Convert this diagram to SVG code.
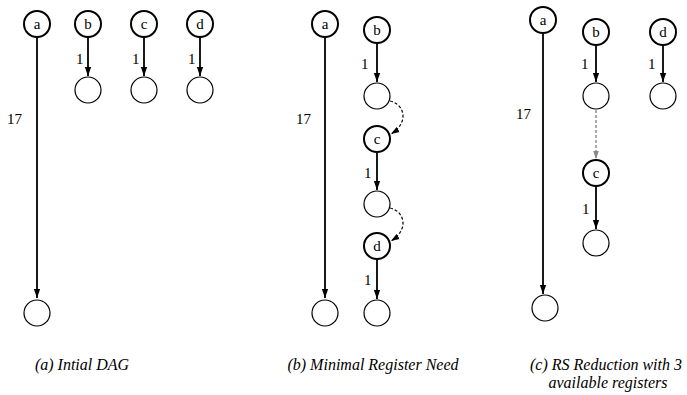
<svg xmlns="http://www.w3.org/2000/svg" width="687" height="395" viewBox="0 0 687 395">
<style>
.lab{stroke:#000;stroke-width:2;fill:#fff}
.emp{stroke:#000;stroke-width:1.2;fill:#fff}
text{font-family:'Liberation Serif','Times New Roman','DejaVu Serif',serif;font-size:15px;fill:#000}
.nt{text-anchor:middle}
.e{stroke:#000;stroke-width:1.8;fill:none;marker-end:url(#ah)}
.d{stroke:#000;stroke-width:1.2;stroke-dasharray:3,2;fill:none;marker-end:url(#ah2)}
.g{stroke:#888;stroke-width:1.4;stroke-dasharray:3,2;fill:none;marker-end:url(#ahg)}
.cap{font-style:italic;text-anchor:middle;font-size:16px}
</style>
<defs>
<marker id="ah" viewBox="0 0 10 10" refX="10" refY="5" markerWidth="5" markerHeight="5" orient="auto" markerUnits="strokeWidth"><path d="M0,1.5 L10,5 L0,8.5 z" fill="#000"/></marker>
<marker id="ah2" viewBox="0 0 10 10" refX="10" refY="5" markerWidth="7" markerHeight="7" orient="auto" markerUnits="strokeWidth"><path d="M0,1.5 L10,5 L0,8.5 z" fill="#000"/></marker>
<marker id="ahg" viewBox="0 0 10 10" refX="10" refY="5" markerWidth="6" markerHeight="6" orient="auto" markerUnits="strokeWidth"><path d="M0,1.5 L10,5 L0,8.5 z" fill="#888"/></marker>
</defs>
<g id="connectors">
<path class="e" d="M37,38 V298"/>
<path class="e" d="M88,38 V76"/>
<path class="e" d="M144,38 V76"/>
<path class="e" d="M200,38 V76"/>
<path class="e" d="M325,38 V298"/>
<path class="e" d="M377,44 V82"/>
<path class="e" d="M377,153 V190"/>
<path class="e" d="M377,260 V299"/>
<path class="d" d="M390,101 C404,104 410,122 391,134"/>
<path class="d" d="M390,208 C404,211 410,229 391,241"/>
<path class="e" d="M543,34 V294"/>
<path class="e" d="M596,46 V82"/>
<path class="e" d="M663,46 V82"/>
<path class="g" d="M596,110 V159"/>
<path class="e" d="M596,187 V229"/>
<text x="76" y="64">1</text>
<text x="132" y="64">1</text>
<text x="188" y="64">1</text>
<text x="7" y="124">17</text>
<text x="296" y="124">17</text>
<text x="361" y="69">1</text>
<text x="364" y="178">1</text>
<text x="364" y="285">1</text>
<text x="516" y="119">17</text>
<text x="581" y="69">1</text>
<text x="648" y="69">1</text>
<text x="582" y="214">1</text>
</g>
<g id="a1"><circle class="lab" cx="37" cy="24" r="13"/><text class="nt" x="37" y="29">a</text></g>
<g id="b1"><circle class="lab" cx="88" cy="24" r="13"/><text class="nt" x="88" y="29">b</text></g>
<g id="c1"><circle class="lab" cx="144" cy="24" r="13"/><text class="nt" x="144" y="29">c</text></g>
<g id="d1"><circle class="lab" cx="200" cy="24" r="13"/><text class="nt" x="200" y="29">d</text></g>
<g id="b1s"><circle class="emp" cx="88" cy="90" r="13"/></g>
<g id="c1s"><circle class="emp" cx="144" cy="90" r="13"/></g>
<g id="d1s"><circle class="emp" cx="200" cy="90" r="13"/></g>
<g id="a1s"><circle class="emp" cx="37" cy="313" r="13"/></g>
<g id="a2"><circle class="lab" cx="325" cy="24" r="13"/><text class="nt" x="325" y="29">a</text></g>
<g id="b2"><circle class="lab" cx="377" cy="30" r="13"/><text class="nt" x="377" y="35">b</text></g>
<g id="b2s"><circle class="emp" cx="377" cy="96" r="13"/></g>
<g id="c2"><circle class="lab" cx="377" cy="139" r="13"/><text class="nt" x="377" y="144">c</text></g>
<g id="c2s"><circle class="emp" cx="377" cy="204" r="13"/></g>
<g id="d2"><circle class="lab" cx="377" cy="246" r="13"/><text class="nt" x="377" y="251">d</text></g>
<g id="d2s"><circle class="emp" cx="377" cy="313" r="13"/></g>
<g id="a2s"><circle class="emp" cx="325" cy="313" r="13"/></g>
<g id="a3"><circle class="lab" cx="543" cy="20" r="13"/><text class="nt" x="543" y="25">a</text></g>
<g id="b3"><circle class="lab" cx="596" cy="32" r="13"/><text class="nt" x="596" y="37">b</text></g>
<g id="d3"><circle class="lab" cx="663" cy="32" r="13"/><text class="nt" x="663" y="37">d</text></g>
<g id="b3s"><circle class="emp" cx="596" cy="96" r="13"/></g>
<g id="d3s"><circle class="emp" cx="663" cy="96" r="13"/></g>
<g id="c3"><circle class="lab" cx="596" cy="173" r="13"/><text class="nt" x="596" y="178">c</text></g>
<g id="c3s"><circle class="emp" cx="596" cy="243" r="13"/></g>
<g id="a3s"><circle class="emp" cx="545" cy="308" r="13"/></g>
<g id="captions">
<text class="cap" x="82" y="370">(a) Intial DAG</text>
<text class="cap" x="373" y="370">(b) Minimal Register Need</text>
<text class="cap" x="606" y="370">(c) RS Reduction with 3</text>
<text class="cap" x="608" y="388">available registers</text>
</g>
</svg>
